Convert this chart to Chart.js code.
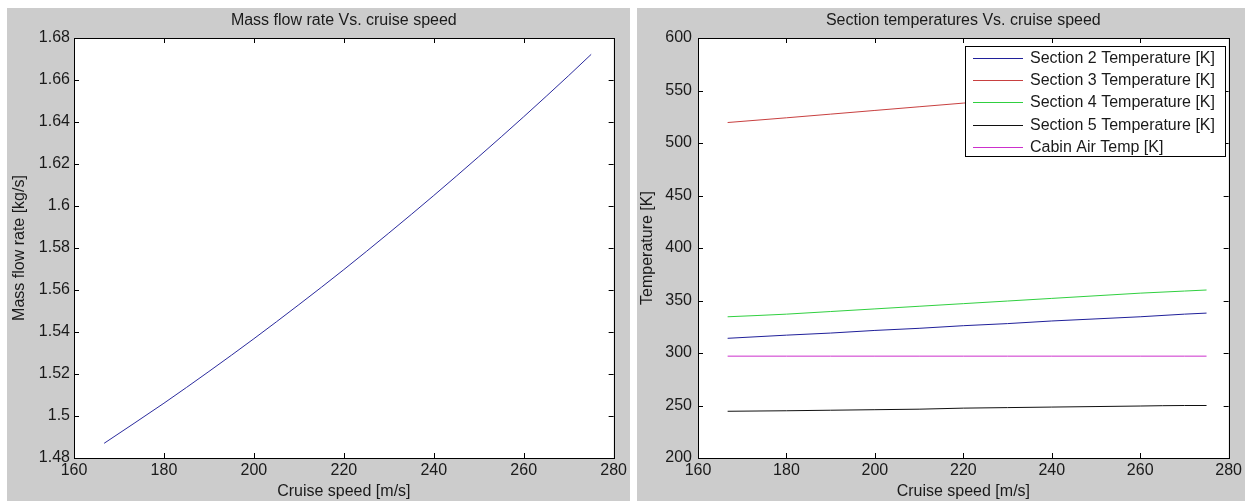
<!DOCTYPE html>
<html>
<head>
<meta charset="utf-8">
<script src="https://cdn.jsdelivr.net/npm/chart.js@4.4.1/dist/chart.umd.min.js"></script>
<style>
  body { margin: 0; background: #ffffff; width: 1245px; height: 501px; overflow: hidden; position: relative; }
  .panel { position: absolute; top: 8px; height: 493px; background: #cccccc; }
  #p1 { left: 7px; width: 623px; }
  #p2 { left: 637px; width: 608px; }
</style>
</head>
<body>
<div class="panel" id="p1"><canvas id="c1" width="623" height="493"></canvas></div>
<div class="panel" id="p2"><canvas id="c2" width="608" height="493"></canvas></div>
<script>
// cruise speed samples [m/s]
const speed = [166.7, 180, 190, 200, 210, 220, 230, 240, 250, 260, 270, 275];

// mass flow rate [kg/s]
const massFlow = [1.487, 1.5061, 1.5212, 1.5368, 1.553, 1.5697, 1.5871, 1.605, 1.6235, 1.6425, 1.6621, 1.6722];

// section temperatures [K]
const temp2 = [314, 317, 319, 321.5, 323.5, 326, 328, 330.5, 332.5, 334.5, 337, 338];
const temp3 = [519.5, 524, 527.5, 531, 534.5, 538, 541.5, 545, 548.5, 552, 555, 557];
const temp4 = [334.5, 337, 339.5, 342, 344.5, 347, 349.5, 352, 354.5, 357, 359, 360];
const temp5 = [244.5, 245, 245.5, 246, 246.5, 247.5, 248, 248.5, 249, 249.5, 250, 250];
const cabinTemp = [297, 297, 297, 297, 297, 297, 297, 297, 297, 297, 297, 297];

const seriesNames = ["Section 2 Temperature [K]", "Section 3 Temperature [K]", "Section 4 Temperature [K]",
                     "Section 5 Temperature [K]", "Cabin Air Temp [K]"];

// tick values
const speedTicks = [160, 180, 200, 220, 240, 260, 280];
const massTicks = [1.48, 1.5, 1.52, 1.54, 1.56, 1.58, 1.6, 1.62, 1.64, 1.66, 1.68];
const tempTicks = [200, 250, 300, 350, 400, 450, 500, 550, 600];

const FONT = "'Liberation Sans', Arial, sans-serif";
const TXT = "#1a1a1a";

function pts(ys) {
  return speed.map((x, i) => ({ x: x, y: ys[i] }));
}

function fixTicks(list) {
  return function (scale) {
    scale.ticks = list.map(v => ({ value: v }));
  };
}

function fmt(v) {
  return String(Number(v.toFixed(2)));
}

// white axes background + matlab style box with inward ticks
const boxPlugin = {
  id: "box",
  beforeDatasetsDraw(chart) {
    const { ctx, chartArea: a } = chart;
    ctx.save();
    ctx.fillStyle = "#ffffff";
    ctx.fillRect(a.left, a.top, a.right - a.left, a.bottom - a.top);
    ctx.restore();
  },
  afterDatasetsDraw(chart) {
    const { ctx, chartArea: a, scales } = chart;
    ctx.save();
    ctx.strokeStyle = "#000";
    ctx.lineWidth = 1;
    ctx.beginPath();
    scales.x.ticks.forEach(t => {
      const px = Math.round(scales.x.getPixelForValue(t.value)) + 0.5;
      ctx.moveTo(px, a.bottom); ctx.lineTo(px, a.bottom - 5);
      ctx.moveTo(px, a.top); ctx.lineTo(px, a.top + 5);
    });
    scales.y.ticks.forEach(t => {
      const py = Math.round(scales.y.getPixelForValue(t.value)) + 0.5;
      ctx.moveTo(a.left, py); ctx.lineTo(a.left + 5, py);
      ctx.moveTo(a.right, py); ctx.lineTo(a.right - 5, py);
    });
    ctx.stroke();
    ctx.strokeRect(Math.round(a.left) + 0.5, Math.round(a.top) + 0.5,
                   Math.round(a.right - a.left), Math.round(a.bottom - a.top));
    ctx.restore();
  }
};

// legend box inside the axes, top right
const legendBox = {
  id: "legendBox",
  afterDatasetsDraw(chart) {
    const { ctx, chartArea: a } = chart;
    const sets = chart.data.datasets;
    ctx.save();
    ctx.font = "16px " + FONT;
    let tw = 0;
    sets.forEach(d => { tw = Math.max(tw, ctx.measureText(d.label).width); });
    const w = Math.round(8 + 50 + 7 + tw + 10);
    const h = 110;
    const x0 = Math.round(a.right - 4 - w);
    const y0 = Math.round(a.top + 8);
    ctx.fillStyle = "#fff";
    ctx.fillRect(x0, y0, w, h);
    ctx.strokeStyle = "#000";
    ctx.lineWidth = 1;
    ctx.strokeRect(x0 + 0.5, y0 + 0.5, w, h);
    ctx.textBaseline = "middle";
    ctx.textAlign = "left";
    sets.forEach((d, i) => {
      const cy = Math.round(y0 + 12 + i * 22.2) + 0.5;
      ctx.strokeStyle = d.borderColor;
      ctx.beginPath();
      ctx.moveTo(x0 + 8, cy); ctx.lineTo(x0 + 58, cy);
      ctx.stroke();
      ctx.fillStyle = TXT;
      ctx.fillText(d.label, x0 + 65, cy);
    });
    ctx.restore();
  }
};

function baseOptions(title, yTitle, yTicks, yMin, yMax, yWidth, yTitlePad, yTickPad) {
  return {
    responsive: false,
    animation: false,
    devicePixelRatio: 1,
    layout: { padding: { left: 0, right: 16, top: 0, bottom: 0 } },
    elements: { point: { radius: 0 }, line: { borderWidth: 1, cubicInterpolationMode: "monotone" } },
    plugins: {
      legend: { display: false },
      tooltip: { enabled: false }
    },
    scales: {
      x: {
        type: "linear", min: 160, max: 280,
        afterBuildTicks: fixTicks(speedTicks),
        afterFit(s) { s.height = 43; },
        grid: { display: false, drawTicks: false },
        border: { display: false },
        ticks: { color: TXT, padding: 3, font: { family: FONT, size: 16 }, maxRotation: 0 },
        title: { display: true, text: "Cruise speed [m/s]", color: TXT, padding: { top: 0, bottom: 0 },
                 font: { family: FONT, size: 16 } }
      },
      // top axis only carries the plot title, centred over the axes
      top: {
        type: "linear", position: "top", min: 160, max: 280,
        afterFit(s) { s.height = 30; },
        grid: { display: false, drawTicks: false },
        border: { display: false },
        ticks: { display: false },
        title: { display: true, text: title, color: TXT, padding: { top: 3.4, bottom: 0 },
                 font: { family: FONT, size: 16 } }
      },
      y: {
        type: "linear", min: yMin, max: yMax,
        afterBuildTicks: fixTicks(yTicks),
        afterFit(s) { s.width = yWidth; },
        grid: { display: false, drawTicks: false },
        border: { display: false },
        ticks: { color: TXT, padding: yTickPad, font: { family: FONT, size: 16 }, callback: v => fmt(v) },
        title: { display: true, text: yTitle, color: TXT, padding: { top: yTitlePad, bottom: 0 },
                 font: { family: FONT, size: 16 } }
      }
    }
  };
}

new Chart(document.getElementById("c1"), {
  type: "line",
  data: {
    datasets: [{ label: "Mass flow rate", data: pts(massFlow), borderColor: "#2b2b9e", fill: false }]
  },
  options: baseOptions("Mass flow rate Vs. cruise speed", "Mass flow rate [kg/s]", massTicks, 1.48, 1.68, 67, 3.4, 4),
  plugins: [boxPlugin]
});

const tempColors = ["#20209a", "#c84040", "#30d040", "#101010", "#cc30cc"];
const tempData = [temp2, temp3, temp4, temp5, cabinTemp];

new Chart(document.getElementById("c2"), {
  type: "line",
  data: {
    datasets: tempData.map((d, i) => ({
      label: seriesNames[i], data: pts(d), borderColor: tempColors[i], fill: false
    }))
  },
  options: baseOptions("Section temperatures Vs. cruise speed", "Temperature [K]", tempTicks, 200, 600, 61, 1.4, 6),
  plugins: [boxPlugin, legendBox]
});
</script>
</body>
</html>
